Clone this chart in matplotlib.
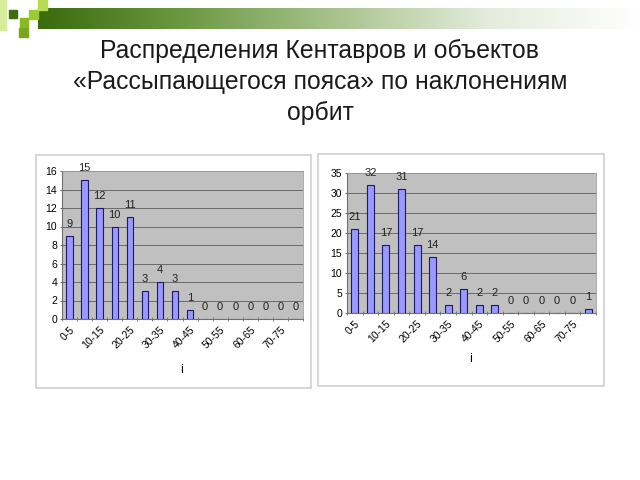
import numpy as np
import matplotlib
matplotlib.use("Agg")
import matplotlib.pyplot as plt
from matplotlib.patches import Rectangle
from matplotlib.colors import LinearSegmentedColormap

plt.rcParams['font.family'] = ['Liberation Sans', 'DejaVu Sans']

title = "Распределения Кентавров и объектов\n«Рассыпающегося пояса» по наклонениям\nорбит"
categories = ["0-5", "5-10", "10-15", "15-20", "20-25", "25-30", "30-35", "35-40",
              "40-45", "45-50", "50-55", "55-60", "60-65", "65-70", "70-75", "75-80"]
centaurs = [9, 15, 12, 10, 11, 3, 4, 3, 1, 0, 0, 0, 0, 0, 0, 0]
scattered = [21, 32, 17, 31, 17, 14, 2, 6, 2, 2, 0, 0, 0, 0, 0, 1]

W, H = 640, 480
fig = plt.figure(figsize=(6.4, 4.8), dpi=100)

# background layer in pixel coordinates
bg = fig.add_axes([0, 0, 1, 1], zorder=0)
bg.set_xlim(0, W)
bg.set_ylim(H, 0)
bg.axis('off')

# green header gradient
grad = np.linspace(0, 1, 256).reshape(1, -1)
cmap = LinearSegmentedColormap.from_list('hdr', ['#3a6b0c', '#6f9a45', '#a9c48f', '#e4ecdc', '#ffffff'])
bg.imshow(grad, cmap=cmap, extent=(38, 640, 29, 8), aspect='auto', zorder=1)
for (x, y, w, h, c) in [(0, 0, 6, 30, '#d6ec9a'), (9, 10, 8, 8, '#3d6e10'), (29, 10, 9, 9, '#99cc33'),
                        (38, 0, 9, 10, '#b5dc4e'), (20, 18, 8, 10, '#88bb22'), (19, 28, 9, 9, '#77a820')]:
    bg.add_patch(Rectangle((x, y), w, h, color=c, zorder=2))

# chart frames
for (x0, y0, x1, y1) in [(36, 155, 311, 388), (318, 154, 604, 386)]:
    bg.add_patch(Rectangle((x0, y0), x1 - x0, y1 - y0, facecolor='white',
                           edgecolor='#cfcfcf', lw=1.2, zorder=2))

fig.text(0.5, 1 - 82 / H, title, ha='center', va='center', fontsize=17.8,
         color='#1a1a1a', linespacing=1.36)


def draw(box, values, ymax, ystep, bw, xlabel_pos):
    x0, y0, x1, y1 = box
    ax = fig.add_axes([x0 / W, 1 - y1 / H, (x1 - x0) / W, (y1 - y0) / H], zorder=3)
    x = np.arange(len(categories))
    ax.set_facecolor('#c0c0c0')
    ax.bar(x, values, width=bw, color='#9999ff', edgecolor='#1a1a66', lw=0.8, zorder=3)
    for xi, v in zip(x, values):
        ax.annotate(str(v), (xi, v), xytext=(0, 5), textcoords='offset points',
                    ha='center', va='bottom', fontsize=8, color='#222222')
    ax.set_xlim(-0.5, len(categories) - 0.5)
    ax.set_ylim(0, ymax)
    ax.set_yticks(np.arange(0, ymax + 1, ystep))
    ax.yaxis.grid(True, color='#6a6a6a', lw=0.7, zorder=1)
    ax.set_axisbelow(True)
    ax.set_xticks(x[::2])
    ax.set_xticklabels(categories[::2], rotation=45, ha='right', rotation_mode='anchor', fontsize=7.5)
    ax.set_xticks(np.arange(-0.5, len(categories), 1), minor=True)
    ax.tick_params(axis='x', which='major', length=0, pad=4)
    ax.tick_params(axis='x', which='minor', length=3, direction='inout', color='#707070')
    ax.tick_params(axis='y', labelsize=7.5, length=3, direction='inout', color='#707070', pad=2)
    for s in ['top', 'right']:
        ax.spines[s].set_color('#a0a0a0')
        ax.spines[s].set_linewidth(0.6)
    for s in ['left', 'bottom']:
        ax.spines[s].set_color('#707070')
        ax.spines[s].set_linewidth(0.8)
    fig.text(xlabel_pos[0] / W, 1 - xlabel_pos[1] / H, 'i', ha='center', va='center', fontsize=9)
    return ax


draw((62, 171, 303, 319), centaurs, 16, 2, 0.42, (182, 370))
draw((347, 173, 596, 313), scattered, 35, 5, 0.45, (471, 359))

fig.savefig('out.png', dpi=100)
